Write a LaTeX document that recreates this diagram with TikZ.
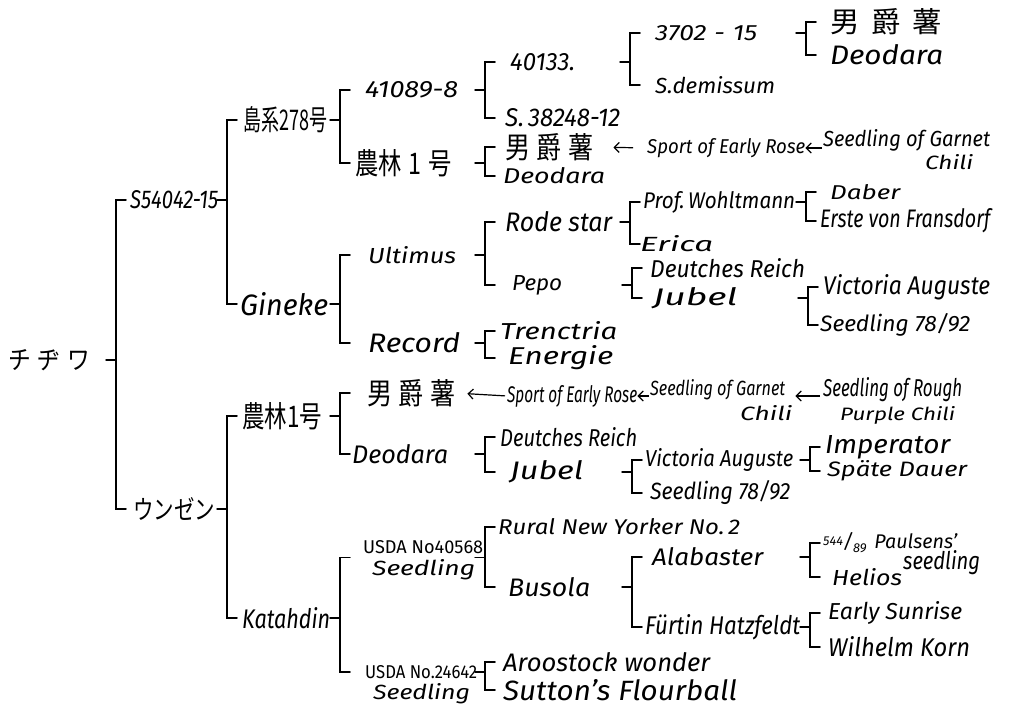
\documentclass[tikz,border=0pt]{standalone}
\usepackage{fontspec}
\usepackage{graphicx}
\setmainfont{Fira Sans}
\newfontfamily\cjk{Noto Sans CJK JP}
\usetikzlibrary{arrows.meta,calc}
\newcommand\W[3]{\resizebox{#1pt}{#2pt}{#3}}
\newcommand\brk[4]{%
  \draw[ln] (#1 -| #2) -- ++(-10,0);
  \draw[ln] (#3 -| #2) ++(10,0) -- (#3 -| #2) -- (#4 -| #2) -- ++(10,0);}
\begin{document}
\begin{tikzpicture}[x=1pt,y=-1pt,
  ln/.style={line width=1.5pt,line cap=round},
  arr/.style={line width=1.2pt,-{Straight Barb[length=5pt,width=10pt]}},
  t/.style={inner sep=0pt,anchor=west},
  fs/.style={font=\fontsize{#1}{#1}\selectfont\itshape},
  fu/.style={font=\fontsize{#1}{#1}\selectfont\upshape},
  fj/.style={font=\fontsize{#1}{#1}\selectfont\cjk}]
\useasboundingbox (0,0) rectangle (1015,714);
\coordinate (x0) at (116,0);
\coordinate (x1) at (227,0);
\coordinate (x2) at (340,0);
\coordinate (x3) at (485,0);
\coordinate (x4) at (630,0);
\coordinate (x4b) at (632,0);
\coordinate (x5) at (806,0);
\coordinate (x5b) at (808,0);
\coordinate (x5c) at (810,0);
% level 0-1
\node[t,fj=22] (r) at (8,360) {\W{82}{20}{チ\hspace{0.3em}ヂ\hspace{0.3em}ワ}};
\node[t,fs=24] (a) at (130,200) {\W{88}{18}{S54042-15}};
\node[t,fj=24] (b) at (133,509) {\W{82}{22}{ウンゼン}};
\brk{r.east}{x0}{a.west}{b.west}
% level 2
\node[t,fj=26] (aa) at (243,120) {\W{84}{24}{島系278号}};
\node[t,fs=30] (ab) at (240,304) {\W{88}{23}{Gineke}};
\brk{a.east}{x1}{aa.west}{ab.west}
\node[t,fj=26] (ba) at (242,416) {\W{80}{25}{農林1号}};
\node[t,fs=28] (bb) at (242,618) {\W{88}{21}{Katahdin}};
\brk{b.east}{x1}{ba.west}{bb.west}
% level 3
\node[t,fs=24] (aaa) at (365,90) {\W{93}{16}{41089-8}};
\node[t,fj=27] (aab) at (355,163) {\W{97}{25}{農林\hspace{0.3em}1\hspace{0.3em}号}};
\brk{aa.east}{x2}{aaa.west}{aab.west}
\node[t,fs=24] (aba) at (368,255) {\W{88}{17}{Ultimus}};
\node[t,fs=27] (abb) at (368,343) {\W{92}{20}{Record}};
\brk{ab.east}{x2}{aba.west}{abb.west}
\node[t,fj=27] (baa) at (367,393) {\W{88}{25}{男\hspace{0.25em}爵\hspace{0.25em}薯}};
\node[t,fs=26] (bab) at (352,454) {\W{96}{19}{Deodara}};
\brk{ba.east}{x2}{baa.west}{bab.west}
\node[t,fu=18] (bba) at (363,547) {\W{120}{13}{USDA No40568}};
\node[t,fs=22] (bba2) at (372,570) {\W{103}{16}{Seedling}};
\coordinate (bbam) at ($(bba.east)!0.45!(bba2.east)$);
\node[t,fu=18] (bbb) at (365,672) {\W{112}{13}{USDA No.24642}};
\node[t,fs=22] (bbb2) at (373,694) {\W{97}{16}{Seedling}};
\brk{bb.east}{x2}{bbam}{bbb.west}
% level 4
\node[t,fs=24] (aaaa) at (510,62) {\W{65}{17}{40133.}};
\node[t,fs=25] (aaab) at (505,118) {\W{115}{18}{S.\,38248-12}};
\brk{aaa.east}{x3}{aaaa.west}{aaab.west}
\node[t,fj=27] (aaba) at (505,147) {\W{88}{25}{男\hspace{0.25em}爵\hspace{0.25em}薯}};
\node[t,fs=23] (aabb) at (503,176) {\W{102}{16}{Deodara}};
\brk{aab.east}{x3}{aaba.west}{aabb.west}
\node[t,fs=21] (sp1) at (647,148) {\W{158}{15}{Sport of Early Rose}};
\node[t,fs=24] (sg1) at (823,140) {\W{167}{17}{Seedling of Garnet}};
\node[t,fs=21] (sg1b) at (925,162) {\W{48}{15}{Chili}};
\draw[arr,shorten <=14pt,shorten >=20pt] (sp1.west) -- (aaba.east);
\draw[arr,shorten <=1pt,shorten >=0pt] (sg1.west |- sp1.east) -- (sp1.east);
\node[t,fs=28] (abaa) at (505,222) {\W{107}{20}{Rode star}};
\node[t,fs=22] (abab) at (512,285) {\W{50}{15}{Pepo}};
\brk{aba.east}{x3}{abaa.west}{abab.west}
\node[t,fs=26] (abba) at (500,331) {\W{117}{18}{Trenctria}};
\node[t,fs=27] (abbb) at (508,358) {\W{105}{19}{Energie}};
\brk{abb.east}{x3}{abba.west}{abbb.west}
\node[t,fs=24] (sp2) at (507,396) {\W{130}{17}{Sport of Early Rose}};
\node[t,fs=23] (sg2) at (650,390) {\W{135}{16}{Seedling of Garnet}};
\node[t,fs=21] (sg2b) at (740,413) {\W{52}{15}{Chili}};
\node[t,fs=26] (sr) at (823,390) {\W{139}{19}{Seedling of Rough}};
\node[t,fs=20] (sr2) at (840,415) {\W{115}{14}{Purple Chili}};
\draw[arr,shorten <=2pt,shorten >=12pt] (sp2.west) -- (baa.east);
\draw[arr,shorten <=1pt,shorten >=0pt] (sg2.west |- sp2.east) -- (sp2.east);
\draw[arr,shorten <=3pt,shorten >=10pt] (sr.west |- sp2.east) -- (sg2.east |- sp2.east);
\node[t,fs=26] (baba) at (500,437) {\W{137}{19}{Deutches Reich}};
\node[t,fs=27] (babb) at (510,472) {\W{73}{19}{Jubel}};
\brk{bab.east}{x3}{baba.west}{babb.west}
\node[t,fs=23] (bbaa) at (498,527) {\W{242}{16}{Rural New Yorker No.\,2}};
\node[t,fs=27] (bbab) at (508,587) {\W{82}{19}{Busola}};
\brk{bbam}{x3}{bbaa.west}{bbab.west}
\node[t,fs=27] (bbba) at (503,662) {\W{207}{19}{Aroostock wonder}};
\node[t,fs=29] (bbbb) at (503,690) {\W{234}{21}{Sutton's Flourball}};
\brk{bbb.east}{x3}{bbba.west}{bbbb.west}
% level 5
\node[t,fs=22] (aaaaa) at (655,33) {\W{102}{15}{3702\hspace{0.3em}-\hspace{0.3em}15}};
\node[t,fs=24] (aaaab) at (655,85) {\W{120}{17}{S.demissum}};
\brk{aaaa.east}{x4}{aaaaa.west}{aaaab.west}
\node[t,fs=24] (abaaa) at (643,202) {\W{152}{17}{Prof.\,Wohltmann}};
\node[t,fs=23] (abaab) at (640,244) {\W{73}{16}{Erica}};
\brk{abaa.east}{x4}{abaaa.west}{abaab.west}
\node[t,fs=26] (ababa) at (650,268) {\W{155}{19}{Deutches Reich}};
\node[t,fs=25] (ababb) at (653,298) {\W{84}{18}{Jubel}};
\brk{abab.east}{x4b}{ababa.west}{ababb.west}
\node[t,fs=25] (babba) at (645,460) {\W{148}{18}{Victoria Auguste}};
\node[t,fs=26] (babbb) at (650,493) {\W{140}{19}{Seedling 78/92}};
\brk{babb.east}{x4b}{babba.west}{babbb.west}
\node[t,fs=25] (bbaba) at (652,557) {\W{111}{18}{Alabaster}};
\node[t,fs=28] (bbabb) at (645,627) {\W{155}{20}{Fürtin Hatzfeldt}};
\brk{bbab.east}{x4b}{bbaba.west}{bbabb.west}
% level 6
\node[t,fj=27] (a6a) at (830,22) {\W{112}{24}{男\hspace{0.4em}爵\hspace{0.4em}薯}};
\node[t,fs=28] (a6b) at (830,55) {\W{113}{20}{Deodara}};
\brk{aaaaa.east}{x5}{a6a.west}{a6b.west}
\node[t,fs=21] (ab6a) at (830,192) {\W{70}{15}{Daber}};
\node[t,fs=26] (ab6b) at (820,221) {\W{170}{19}{Erste von Fransdorf}};
\brk{abaaa.east}{x5}{ab6a.west}{ab6b.west}
\node[t,fs=28] (jb6a) at (823,287) {\W{167}{20}{Victoria Auguste}};
\node[t,fs=25] (jb6b) at (820,325) {\W{150}{18}{Seedling 78/92}};
\brk{ababb.east}{x5b}{jb6a.west}{jb6b.west}
\node[t,fs=25] (va6a) at (825,447) {\W{125}{18}{Imperator}};
\node[t,fs=23] (va6b) at (827,471) {\W{140}{16}{Späte Dauer}};
\brk{babba.east}{x5c}{va6a.west}{va6b.west}
\node[t,fs=20] (p1) at (823,543) {\W{134}{16}{\raisebox{3pt}{\fontsize{13}{13}\selectfont 544}/\raisebox{-4pt}{\fontsize{13}{13}\selectfont 89}\hspace{0.4em}Paulsens'}};
\node[t,fs=26] (p1c) at (903,563) {\W{77}{19}{seedling}};
\node[t,fs=24] (hel) at (832,577) {\W{70}{17}{Helios}};
\brk{bbaba.east}{x5c}{p1.west}{hel.west}
\node[t,fs=25] (es) at (828,613) {\W{134}{18}{Early Sunrise}};
\node[t,fs=28] (wk) at (828,647) {\W{142}{20}{Wilhelm Korn}};
\brk{bbabb.east}{x5c}{es.west}{wk.west}
\end{tikzpicture}
\end{document}
